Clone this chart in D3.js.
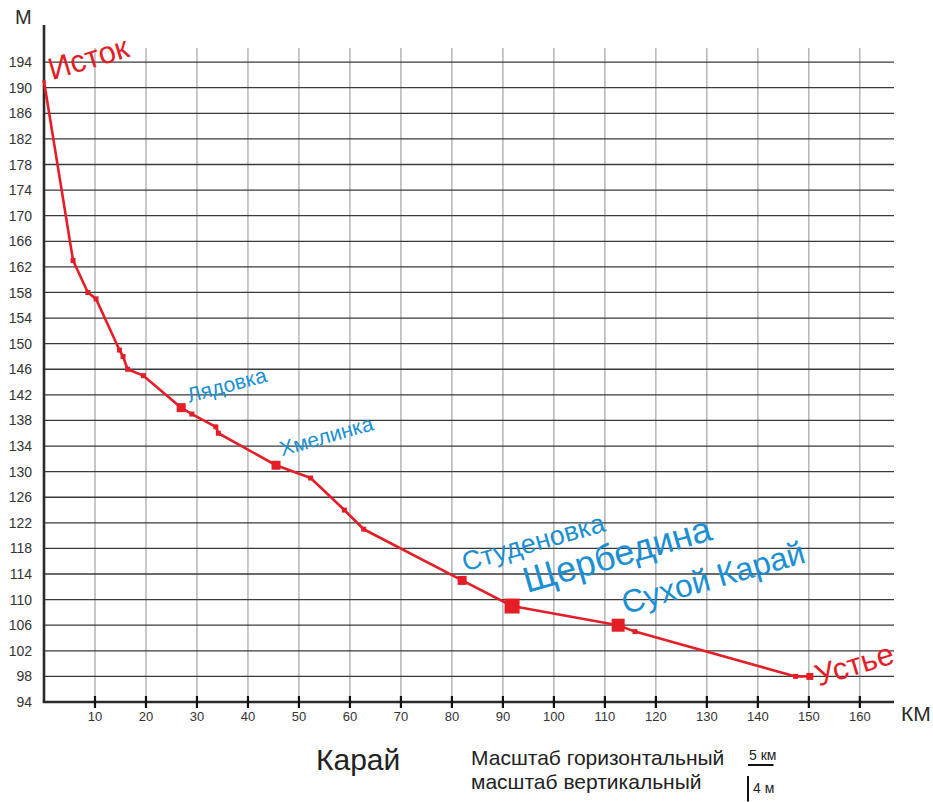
<!DOCTYPE html>
<html>
<head>
<meta charset="utf-8">
<script src="https://cdn.jsdelivr.net/npm/d3@7"></script>
<style>
  html, body { margin: 0; padding: 0; background: #fff; }
  svg { display: block; font-family: "Liberation Sans", Arial, sans-serif; }
</style>
</head>
<body>
<svg id="chart" width="933" height="802"></svg>
<script>
// ---- data ----
const distanceKm = [0, 5.7, 8.6, 10.2, 14.8, 15.5, 16.4, 19.5, 26.9, 29.0, 33.7, 34.2, 45.5, 52.3, 58.9, 62.7, 82.0, 91.8, 112.6, 115.9, 147.4, 150.2];
const elevationM = [191, 163, 158, 157, 149, 148, 146, 145, 140, 139, 137, 136, 131, 129, 124, 121, 113, 109, 106, 105, 98, 98];
const markerKind = ["n", "s", "s", "s", "s", "s", "s", "s", "m", "s", "s", "s", "m", "s", "s", "s", "m", "l", "l2", "s", "s", "m2"];
const xTicks = [10, 20, 30, 40, 50, 60, 70, 80, 90, 100, 110, 120, 130, 140, 150, 160];
const yTicks = [94, 98, 102, 106, 110, 114, 118, 122, 126, 130, 134, 138, 142, 146, 150, 154, 158, 162, 166, 170, 174, 178, 182, 186, 190, 194];
const labelNames = ["Исток", "Лядовка", "Хмелинка", "Студеновка", "Щербедина", "Сухой Карай", "Устье"];
const labelPoint = [0, 8, 12, 16, 17, 18, 21];
const labelKind = ["end", "trib", "trib", "trib", "main", "main", "end"];
const title = "Карай";
const scaleTexts = ["Масштаб горизонтальный", "масштаб вертикальный"];
const scaleKm = 5, scaleM = 4;

// ---- layout ----
const svg = d3.select("#chart");
const x = d3.scaleLinear().domain([0, 166.7]).range([44, 894]);
const y = d3.scaleLinear().domain([94, 199.8]).range([702, 25]);
const gridTop = 196.2;
const red = "#e31e27", blue = "#1b8fd2", ink = "#2b2b2b";

// vertical grid
svg.append("g").selectAll("line").data(xTicks).join("line")
  .attr("x1", d => x(d)).attr("x2", d => x(d))
  .attr("y1", y(94)).attr("y2", y(gridTop))
  .attr("stroke", "#9a9a9a").attr("stroke-width", 1.1);

// horizontal grid
svg.append("g").selectAll("line").data(yTicks.slice(1)).join("line")
  .attr("x1", x(0)).attr("x2", x.range()[1])
  .attr("y1", d => y(d)).attr("y2", d => y(d))
  .attr("stroke", "#3a3a3a").attr("stroke-width", 1.3);

// axes lines
svg.append("line").attr("x1", x(0)).attr("x2", x(0)).attr("y1", y(94)).attr("y2", y.range()[1])
  .attr("stroke", ink).attr("stroke-width", 2.6);
svg.append("line").attr("x1", x(0) - 1.3).attr("x2", x.range()[1]).attr("y1", y(94)).attr("y2", y(94))
  .attr("stroke", ink).attr("stroke-width", 2.6);

// x ticks
svg.append("g").selectAll("line").data(xTicks).join("line")
  .attr("x1", d => x(d)).attr("x2", d => x(d))
  .attr("y1", y(94) - 6).attr("y2", y(94) + 6)
  .attr("stroke", "#111").attr("stroke-width", 2.2);
svg.append("g").selectAll("text").data(xTicks).join("text")
  .attr("x", d => x(d)).attr("y", 721)
  .attr("text-anchor", "middle").attr("font-size", 13).attr("fill", "#333")
  .text(d => d);

// y tick labels
svg.append("g").selectAll("text").data(yTicks).join("text")
  .attr("x", 32).attr("y", d => y(d)).attr("dy", "0.36em")
  .attr("text-anchor", "end").attr("font-size", 14).attr("fill", "#333")
  .text(d => d);

// axis unit labels
svg.append("text").attr("x", 15).attr("y", 24).attr("font-size", 20).attr("fill", ink).text("М");
svg.append("text").attr("x", 901).attr("y", 721).attr("font-size", 21).attr("fill", ink).text("КМ");

// profile line
const pts = distanceKm.map((d, i) => ({ km: d, m: elevationM[i], k: markerKind[i] }));
svg.append("path").datum(pts)
  .attr("d", d3.line().x(d => x(d.km)).y(d => y(d.m)))
  .attr("fill", "none").attr("stroke", red).attr("stroke-width", 2.6).attr("stroke-linejoin", "round");

const msize = { n: 3, s: 5, m: 9, m2: 7, l: 15, l2: 13 };
svg.append("g").selectAll("rect").data(pts).join("rect")
  .attr("x", d => x(d.km) - msize[d.k] / 2)
  .attr("y", d => y(d.m) - msize[d.k] / 2)
  .attr("width", d => msize[d.k])
  .attr("height", d => msize[d.k])
  .attr("fill", red);

// labels
const labelStyle = {
  "Исток": { dx: 8, dy: -1, fs: 31, rot: -17 },
  "Лядовка": { dx: 8, dy: -5, fs: 21, rot: -15 },
  "Хмелинка": { dx: 6, dy: -9, fs: 21, rot: -16 },
  "Студеновка": { dx: 3, dy: -9, fs: 27, rot: -16 },
  "Щербедина": { dx: 15, dy: -13, fs: 36, rot: -16 },
  "Сухой Карай": { dx: 7, dy: -11, fs: 32, rot: -16 },
  "Устье": { dx: 9, dy: 10, fs: 31, rot: -17 }
};
labelNames.forEach((name, i) => {
  const p = pts[labelPoint[i]];
  const s = labelStyle[name];
  const tx = x(p.km) + s.dx, ty = y(p.m) + s.dy;
  svg.append("text")
    .attr("transform", `translate(${tx},${ty}) rotate(${s.rot})`)
    .attr("font-size", s.fs)
    .attr("fill", labelKind[i] === "end" ? red : blue)
    .text(name);
});

// title and scale legend
svg.append("text").attr("x", 316).attr("y", 770).attr("font-size", 30).attr("fill", "#222").text(title);
svg.append("text").attr("x", 471).attr("y", 765).attr("font-size", 21).attr("fill", "#222").text(scaleTexts[0]);
svg.append("text").attr("x", 471).attr("y", 789).attr("font-size", 21).attr("fill", "#222").text(scaleTexts[1]);

const kmPx = x(scaleKm) - x(0);
const mPx = y(94) - y(94 + scaleM);
svg.append("line").attr("x1", 748).attr("x2", 748 + kmPx).attr("y1", 765).attr("y2", 765)
  .attr("stroke", "#111").attr("stroke-width", 2);
svg.append("text").attr("x", 749).attr("y", 760).attr("font-size", 14).attr("fill", "#222").text(scaleKm + " км");
svg.append("line").attr("x1", 748).attr("x2", 748).attr("y1", 776).attr("y2", 776 + mPx)
  .attr("stroke", "#111").attr("stroke-width", 2);
svg.append("text").attr("x", 753).attr("y", 793).attr("font-size", 14).attr("fill", "#222").text(scaleM + " м");
</script>
</body>
</html>
